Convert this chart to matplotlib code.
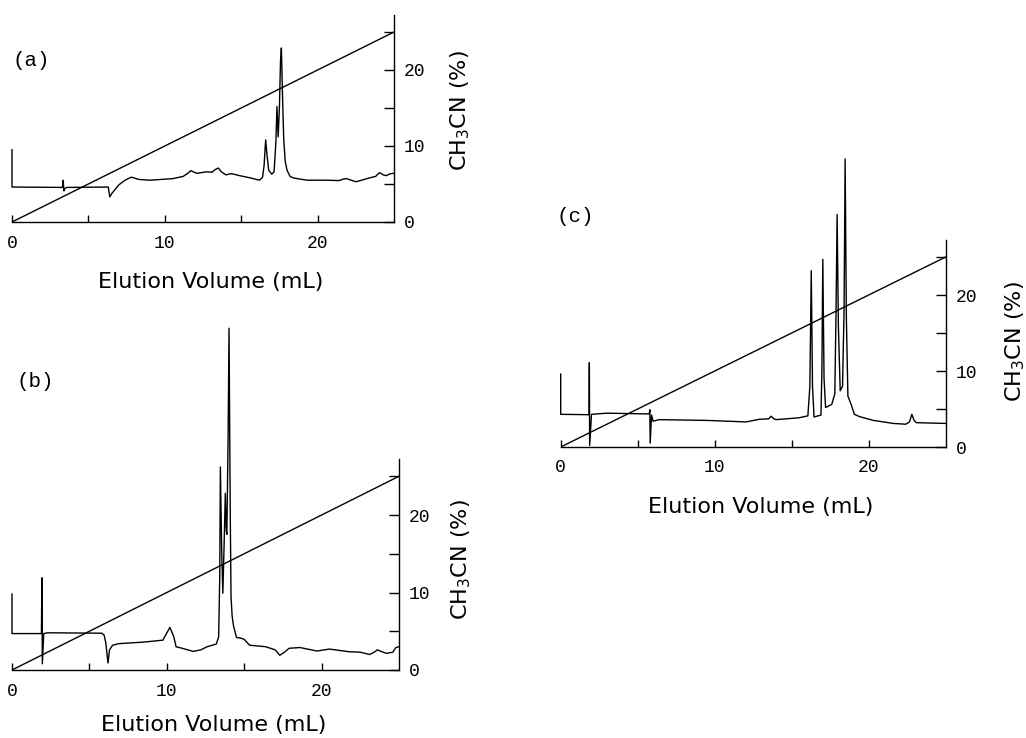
import matplotlib
matplotlib.use("Agg")
import matplotlib.pyplot as plt
from matplotlib.ticker import FixedLocator

# gradient: CH3CN (%) vs elution volume (mL)
grad_x = [0, 25]
grad_y = [0, 25]

# chromatogram (a): elution volume (mL), absorbance (drawn in % units)
trace_a_x = [0, 0, 3.3, 3.35, 3.4, 3.45, 3.6, 6.3, 6.4, 6.55, 7.0, 7.4, 7.8,
             8.3, 9.0, 10.5, 11.2, 11.5, 11.7, 12.1, 12.7, 13.1, 13.3, 13.5,
             13.7, 14.0, 14.3, 14.5, 14.9, 15.6, 16.2, 16.4, 16.5, 16.6, 16.68,
             16.8, 17.0, 17.15, 17.27, 17.34, 17.42, 17.5, 17.57, 17.63, 17.7,
             17.78, 17.88, 18.0, 18.2, 18.4, 19.3, 20.5, 21.4, 21.7, 21.9,
             22.2, 22.5, 22.8, 23.3, 23.8, 24.05, 24.3, 24.5, 24.75, 25]
trace_a_y = [9.5, 4.6, 4.55, 5.5, 4.1, 4.4, 4.55, 4.6, 3.3, 3.8, 4.9, 5.5, 5.9,
             5.6, 5.5, 5.7, 6.0, 6.4, 6.75, 6.4, 6.6, 6.55, 6.9, 7.1,
             6.6, 6.2, 6.35, 6.3, 6.1, 5.8, 5.5, 5.9, 7.5, 10.8, 9.0,
             6.8, 6.3, 6.6, 10.5, 15.2, 11.2, 15.0, 21.0, 22.9, 17.0,
             11.0, 8.0, 6.8, 6.0, 5.8, 5.5, 5.5, 5.45, 5.65, 5.7,
             5.5, 5.3, 5.45, 5.75, 6.0, 6.5, 6.2, 6.1, 6.35, 6.4]

# chromatogram (b)
trace_b_x = [0, 0, 1.9, 1.93, 1.96, 2.05, 2.3, 5.8, 5.95, 6.06, 6.2, 6.3, 6.5,
             6.9, 8.5, 9.75, 9.95, 10.2, 10.45, 10.6, 11.0, 11.7, 12.2, 12.6,
             13.2, 13.35, 13.42, 13.46, 13.55, 13.62, 13.7, 13.78, 13.84, 13.88,
             13.96, 14.02, 14.1, 14.15, 14.22, 14.3, 14.5, 14.8, 15.0, 15.35,
             16.4, 17.0, 17.3, 17.6, 17.9, 18.6, 19.7, 20.5, 21.8, 22.5, 23.1,
             23.4, 23.6, 23.9, 24.2, 24.6, 24.8, 25]
trace_b_y = [9.8, 4.7, 4.7, 11.9, 0.8, 4.7, 4.8, 4.75, 4.5, 3.5, 0.9, 2.6, 3.2,
             3.4, 3.6, 3.85, 4.6, 5.5, 4.3, 3.0, 2.8, 2.4, 2.6, 3.0,
             3.35, 4.3, 12.0, 26.2, 15.0, 9.9, 16.0, 22.8, 18.0, 17.5,
             30.0, 44.1, 20.0, 9.4, 7.0, 5.8, 4.2, 4.1, 3.95, 3.2,
             3.0, 2.6, 1.9, 2.3, 2.8, 2.9, 2.45, 2.7, 2.35, 2.3, 2.0,
             2.3, 2.6, 2.35, 2.15, 2.3, 2.9, 3.0]

# chromatogram (c)
trace_c_x = [0, 0, 1.84, 1.86, 1.88, 2.0, 3.0, 5.75, 5.79, 5.81, 5.9, 6.0, 6.4,
             9.46, 12.05, 12.9, 13.5, 13.67, 13.85, 14.0, 15.5, 16.05, 16.18,
             16.27, 16.35, 16.45, 16.9, 16.96, 17.02, 17.1, 17.2, 17.6, 17.8,
             17.88, 17.95, 18.03, 18.15, 18.3, 18.4, 18.47, 18.55, 18.65,
             18.86, 19.07, 19.4, 20.3, 21.6, 22.4, 22.65, 22.8, 22.95, 23.1,
             25]
trace_c_y = [9.6, 4.3, 4.25, 11.1, 0.2, 4.3, 4.45, 4.35, 4.9, 0.5, 4.2, 3.4, 3.6,
             3.5, 3.3, 3.65, 3.7, 4.05, 3.7, 3.6, 3.85, 4.1, 8.0,
             23.2, 8.0, 3.95, 4.2, 10.0, 24.7, 9.0, 5.2, 5.6, 7.0,
             18.0, 30.6, 16.0, 7.4, 8.0, 18.0, 37.9, 17.0, 6.7,
             5.6, 4.3, 4.0, 3.5, 3.1, 3.0, 3.3, 4.3, 3.5, 3.2,
             3.1]

W, H = 1026, 738
mono = "Liberation Mono"
sans = "DejaVu Sans"


def make_panel(fig, rect, ytop, xs, ys, tag, tag_xy, ylab_xy, lpad):
    ax = fig.add_axes(rect)
    ax.plot(grad_x, grad_y, color="black", lw=1.0)
    ax.plot(xs, ys, color="black", lw=1.0, clip_on=False)
    ax.set_xlim(0, 25)
    ax.set_ylim(0, ytop)
    ax.patch.set_alpha(0)
    ax.spines["top"].set_visible(False)
    ax.spines["left"].set_visible(False)
    ax.spines["right"].set_bounds(0, 27.2)
    for s in ("right", "bottom"):
        ax.spines[s].set_linewidth(1.0)
    ax.yaxis.tick_right()
    ax.set_yticks([0, 10, 20])
    ax.yaxis.set_minor_locator(FixedLocator([5, 15, 25]))
    ax.set_xticks([0, 10, 20])
    ax.xaxis.set_minor_locator(FixedLocator([5, 15]))
    ax.tick_params(which="both", direction="in", color="black", width=1.0)
    ax.tick_params(axis="y", which="both", length=7, pad=7)
    ax.tick_params(axis="x", which="both", length=5, pad=9)
    for lab in ax.get_xticklabels() + ax.get_yticklabels():
        lab.set_fontfamily(mono)
        lab.set_fontsize(13)
    ax.set_xlabel("Elution Volume (mL)", fontfamily=sans, fontsize=16,
                  labelpad=lpad, x=0.52)
    ax.text(ylab_xy[0], ylab_xy[1], "CH$_3$CN (%)", rotation=90, ha="center",
            va="center", fontfamily=sans, fontsize=16, clip_on=False)
    ax.text(tag_xy[0], tag_xy[1], tag, fontfamily=mono, fontsize=15,
            ha="left", va="center")
    return ax


fig = plt.figure(figsize=(W / 100, H / 100), dpi=100)
plt.rcParams["mathtext.default"] = "regular"

# (a)
make_panel(fig, [12 / W, (H - 222) / H, 382 / W, 28 * 7.6 / H], 28,
           trace_a_x, trace_a_y, "(a)", (0.05, 21.2), (29.3, 14.6), 15)
# (b)
make_panel(fig, [12 / W, (H - 670) / H, 387 / W, 46 * 7.75 / H], 46,
           trace_b_x, trace_b_y, "(b)", (0.3, 37.2), (29.0, 14.2), 11)
# (c)
make_panel(fig, [560.7 / W, (H - 447) / H, 385 / W, 40 * 7.6 / H], 40,
           trace_c_x, trace_c_y, "(c)", (-0.25, 30.3), (29.5, 13.9), 15)

fig.savefig("out.png", dpi=100)
